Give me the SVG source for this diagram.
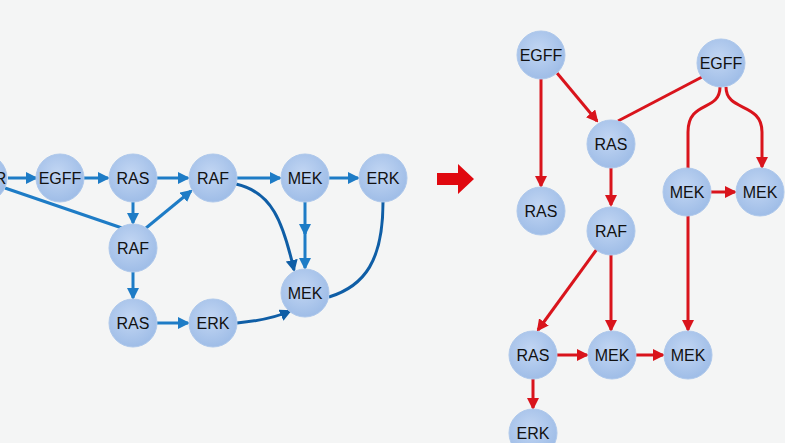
<svg xmlns="http://www.w3.org/2000/svg" width="785" height="443" viewBox="0 0 785 443">
<defs>
<radialGradient id="nodeFill" cx="45%" cy="40%" r="60%">
<stop offset="0%" stop-color="#c2d6f3"/>
<stop offset="100%" stop-color="#9fbde7"/>
</radialGradient>
<marker id="ab" viewBox="0 0 12 12" refX="10" refY="6" markerWidth="12" markerHeight="12" markerUnits="userSpaceOnUse" orient="auto">
<path d="M0,0 L12,6 L0,12 z" fill="#1e7cc6"/>
</marker>
<marker id="abd" viewBox="0 0 12 12" refX="10" refY="6" markerWidth="12" markerHeight="12" markerUnits="userSpaceOnUse" orient="auto">
<path d="M0,0 L12,6 L0,12 z" fill="#0f5ea6"/>
</marker>
<marker id="ar" viewBox="0 0 12 12" refX="10" refY="6" markerWidth="12" markerHeight="12" markerUnits="userSpaceOnUse" orient="auto">
<path d="M0,0 L12,6 L0,12 z" fill="#d9141c"/>
</marker>
</defs>
<style>
.n circle{fill:url(#nodeFill);stroke:#aec8eb;stroke-width:1}
.n text{font-family:"Liberation Sans",Arial,sans-serif;font-size:16px;fill:#111;text-anchor:middle;dominant-baseline:central}
.b{fill:none;stroke:#1e7cc6;stroke-width:3}
.bd{fill:none;stroke:#0f5ea6;stroke-width:3}
.r{fill:none;stroke:#d9141c;stroke-width:3}
</style>
<rect width="785" height="443" fill="#f4f5f5"/>
<g id="connectors">
<path class="b" d="M8,178 L36,178" marker-end="url(#ab)"/>
<path class="b" d="M84,178 L108,178" marker-end="url(#ab)"/>
<path class="b" d="M157,178 L188,178" marker-end="url(#ab)"/>
<path class="b" d="M133,202 L133,223" marker-end="url(#ab)"/>
<path class="b" d="M146,228 L191,191" marker-end="url(#ab)"/>
<path class="b" d="M5,188 L122,228"/>
<path class="b" d="M133,272 L133,298" marker-end="url(#ab)"/>
<path class="b" d="M157,323 L188,323" marker-end="url(#ab)"/>
<path class="b" d="M237,178 L280,178" marker-end="url(#ab)"/>
<path class="b" d="M329,178 L358,178" marker-end="url(#ab)"/>
<path class="b" d="M305,202 L305,234" marker-end="url(#ab)"/>
<path class="b" d="M305,232 L305,268" marker-end="url(#ab)"/>
<path class="bd" d="M236,184 C272,192 283,222 294,270" marker-end="url(#abd)"/>
<path class="bd" d="M383,202 C383,260 365,286 329,297"/>
<path class="bd" d="M237,323 C258,321 275,318 290,311" marker-end="url(#abd)"/>
<path class="r" d="M541,79 L541,186" marker-end="url(#ar)"/>
<path class="r" d="M557,73 L597,121" marker-end="url(#ar)"/>
<path class="r" d="M702,77 L618,121"/>
<path class="r" d="M720,87 C720,112 688,100 688,132 L688,330" marker-end="url(#ar)"/>
<path class="r" d="M726,87 C726,112 762,102 762,132 L762,167" marker-end="url(#ar)"/>
<path class="r" d="M711,192 L735,192" marker-end="url(#ar)"/>
<path class="r" d="M611,168 L611,205" marker-end="url(#ar)"/>
<path class="r" d="M597,249 L538,330" marker-end="url(#ar)"/>
<path class="r" d="M611,255 L611,330" marker-end="url(#ar)"/>
<path class="r" d="M557,355 L587,355" marker-end="url(#ar)"/>
<path class="r" d="M636,355 L663,355" marker-end="url(#ar)"/>
<path class="r" d="M533,379 L533,408" marker-end="url(#ar)"/>
<path d="M437,173 L458,173 L458,164 L474,179 L458,194 L458,185 L437,185 z" fill="#e0080f"/>
</g>
<g id="n0" class="n"><circle cx="-17" cy="178" r="24"/><text x="-16" y="178">EGFR</text></g>
<g id="n1" class="n"><circle cx="60" cy="178" r="24"/><text x="60" y="178">EGFF</text></g>
<g id="n2" class="n"><circle cx="133" cy="178" r="24"/><text x="133" y="178">RAS</text></g>
<g id="n3" class="n"><circle cx="213" cy="178" r="24"/><text x="213" y="178">RAF</text></g>
<g id="n4" class="n"><circle cx="133" cy="248" r="24"/><text x="133" y="248">RAF</text></g>
<g id="n5" class="n"><circle cx="133" cy="323" r="24"/><text x="133" y="323">RAS</text></g>
<g id="n6" class="n"><circle cx="213" cy="323" r="24"/><text x="213" y="323">ERK</text></g>
<g id="n7" class="n"><circle cx="305" cy="178" r="24"/><text x="305" y="178">MEK</text></g>
<g id="n8" class="n"><circle cx="383" cy="178" r="24"/><text x="383" y="178">ERK</text></g>
<g id="n9" class="n"><circle cx="305" cy="293" r="24"/><text x="305" y="293">MEK</text></g>
<g id="m1" class="n"><circle cx="541" cy="55" r="24"/><text x="541" y="55">EGFF</text></g>
<g id="m2" class="n"><circle cx="721" cy="63" r="24"/><text x="721" y="63">EGFF</text></g>
<g id="m3" class="n"><circle cx="611" cy="144" r="24"/><text x="611" y="144">RAS</text></g>
<g id="m4" class="n"><circle cx="541" cy="211" r="24"/><text x="541" y="211">RAS</text></g>
<g id="m5" class="n"><circle cx="611" cy="231" r="24"/><text x="611" y="231">RAF</text></g>
<g id="m6" class="n"><circle cx="687" cy="192" r="24"/><text x="687" y="192">MEK</text></g>
<g id="m7" class="n"><circle cx="760" cy="192" r="24"/><text x="760" y="192">MEK</text></g>
<g id="m8" class="n"><circle cx="533" cy="355" r="24"/><text x="533" y="355">RAS</text></g>
<g id="m9" class="n"><circle cx="612" cy="355" r="24"/><text x="612" y="355">MEK</text></g>
<g id="m10" class="n"><circle cx="688" cy="355" r="24"/><text x="688" y="355">MEK</text></g>
<g id="m11" class="n"><circle cx="533" cy="433" r="24"/><text x="533" y="433">ERK</text></g>
</svg>
